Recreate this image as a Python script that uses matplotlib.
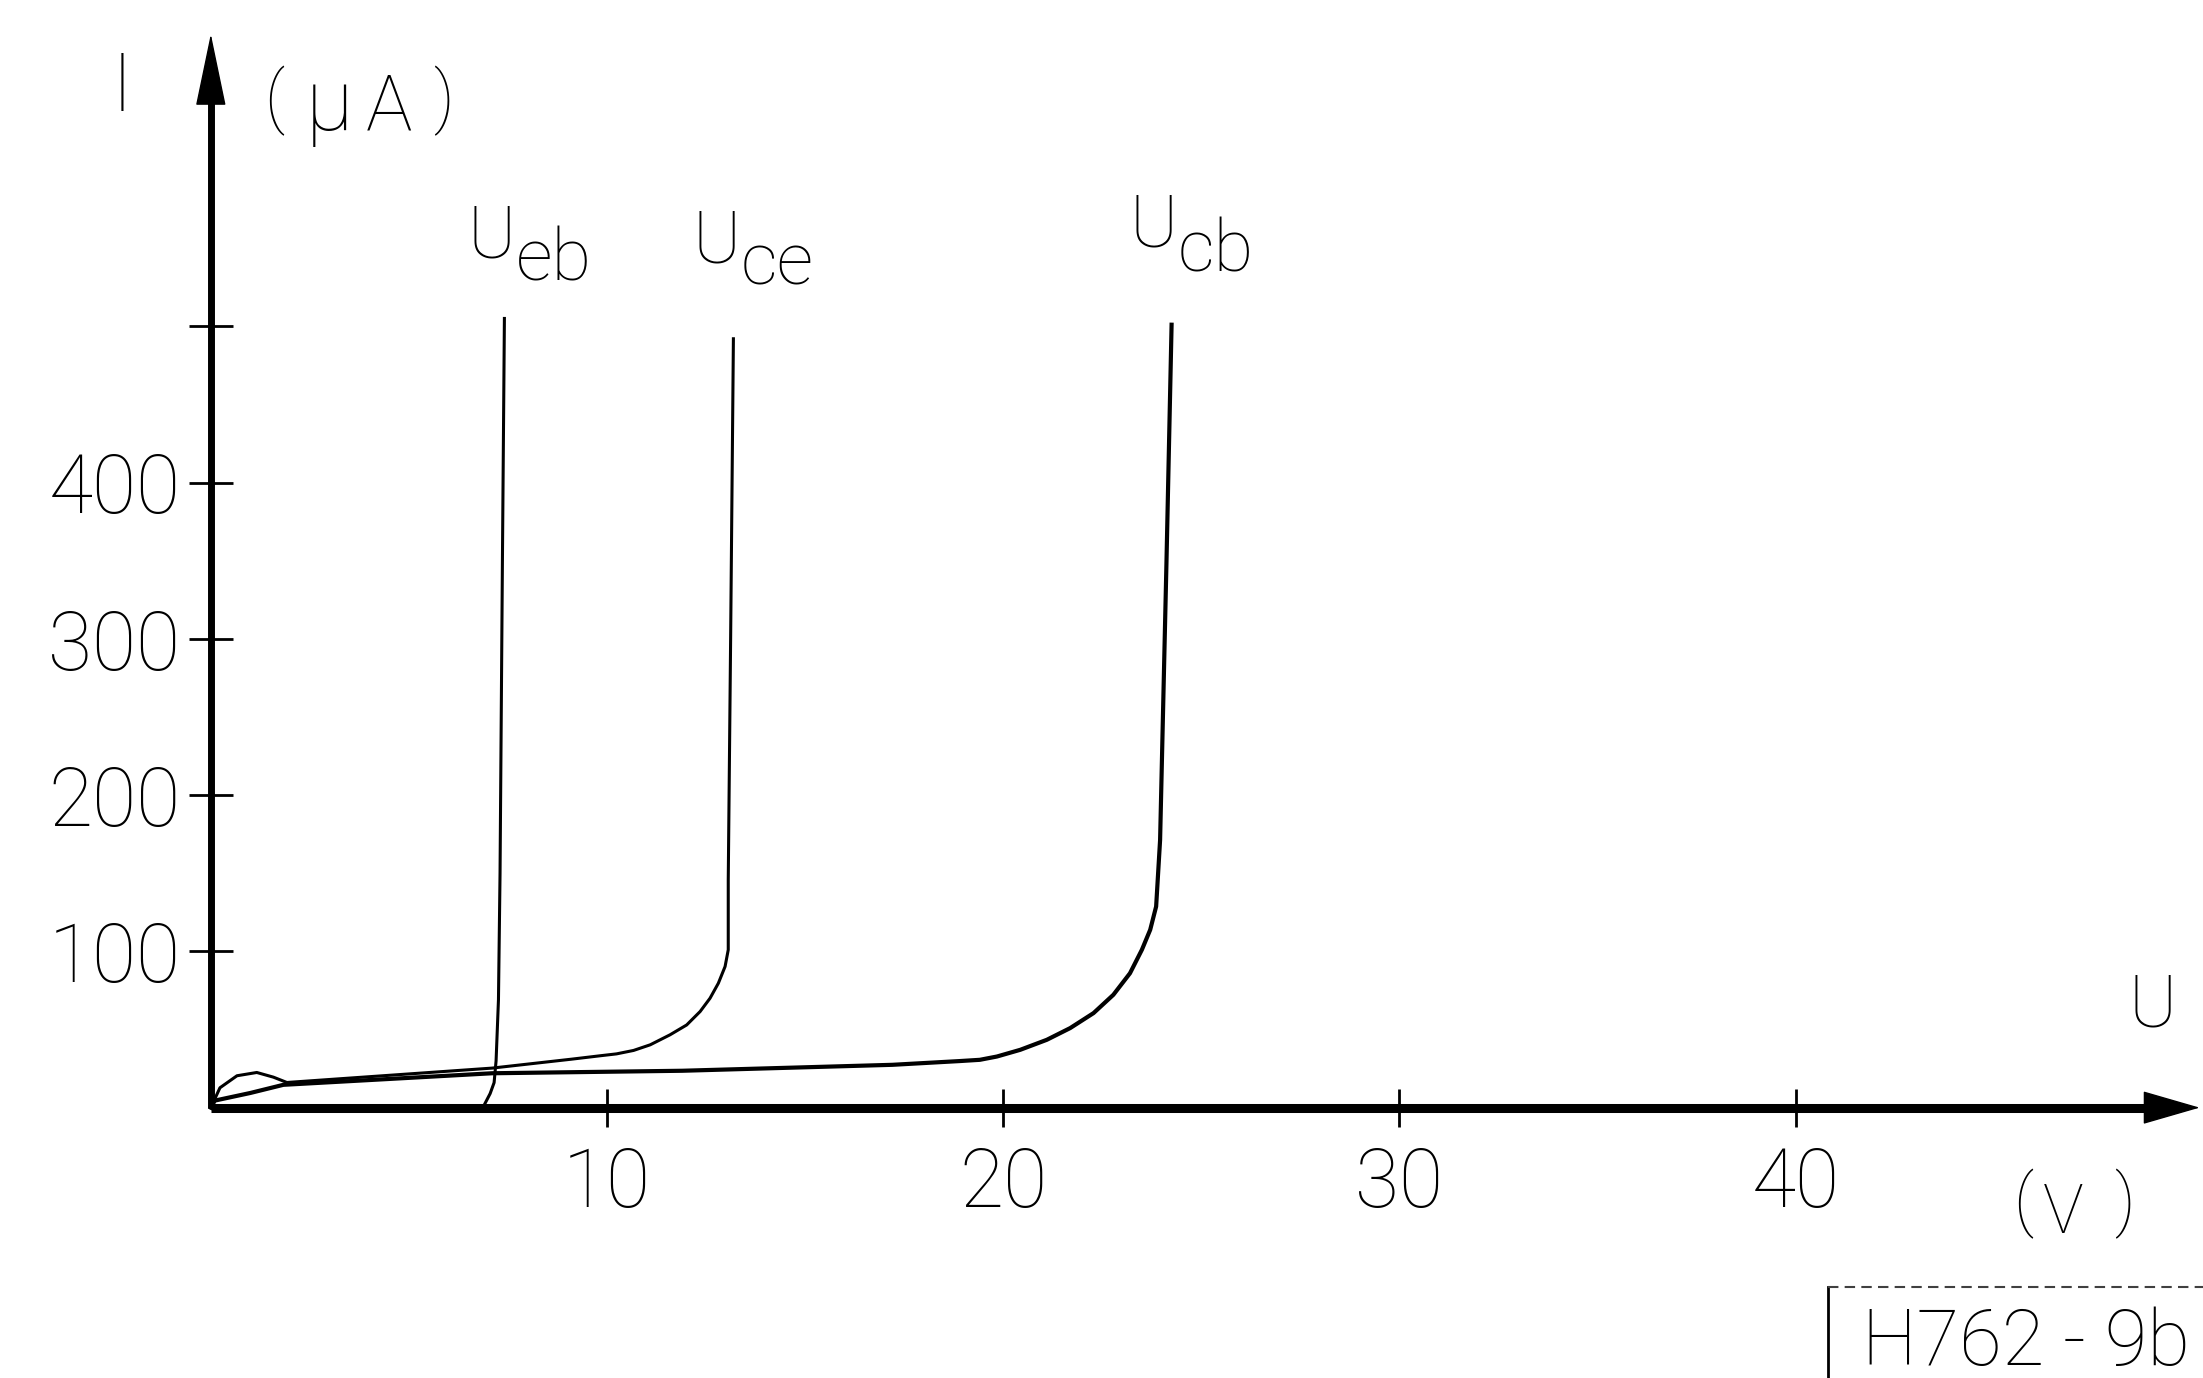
import matplotlib
matplotlib.use('Agg')
import matplotlib.pyplot as plt
from matplotlib.lines import Line2D

# breakdown characteristics: current I (uA) against voltage U (V)
ueb_u = [0.0, 6.88, 7.05, 7.15, 7.2, 7.26, 7.3, 7.36, 7.41]
ueb_i = [0.0, 0.7, 9.0, 16.0, 30.0, 69.0, 150.0, 350.0, 505.0]

uce_u = [0.0, 0.23, 0.66, 1.16, 1.58, 1.92, 7.1, 9.1, 9.83, 10.24, 10.67,
         11.09, 11.59, 12.01, 12.35, 12.6, 12.81, 12.98, 13.06, 13.06,
         13.12, 13.19]
uce_i = [0.0, 12.7, 20.4, 22.5, 19.5, 16.1, 25.3, 31.0, 33.2, 34.4, 36.6,
         40.2, 46.6, 52.9, 61.5, 70.0, 79.6, 90.3, 101.0, 145.8,
         300.0, 492.0]

ucb_u = [0.0, 0.1, 1.0, 1.83, 7.1, 11.9, 17.2, 18.9, 19.41, 19.84, 20.43,
         21.1, 21.69, 22.28, 22.78, 23.2, 23.5, 23.71, 23.86, 23.91, 23.96,
         24.12, 24.25]
ucb_i = [0.0, 4.5, 9.4, 14.6, 22.0, 23.6, 27.4, 29.8, 30.6, 32.7, 37.0,
         43.4, 50.9, 60.5, 72.2, 86.0, 101.0, 113.8, 128.7, 150.0, 171.3,
         348.0, 501.0]

x_ticks = [10, 20, 30, 40]
x_tick_labels = ['10', '20', '30', '40']
y_ticks = [100, 200, 300, 400, 500]
y_tick_labels = ['100', '200', '300', '400', '']

u_max = 50.2
i_max = 687

plt.rcParams['font.family'] = ['Roboto', 'DejaVu Sans']
plt.rcParams['font.weight'] = 'light'

fig = plt.figure(figsize=(22.03, 13.78), dpi=100)
ax = fig.add_axes([0.0957, 0.1962, 0.9028, 0.7825])
ax.set_xlim(0, u_max)
ax.set_ylim(0, 690)
for s in ax.spines.values():
    s.set_visible(False)
ax.patch.set_visible(False)

# axis lines with filled arrow heads
ax.plot([0, u_max - 1.0], [0, 0], color='k', lw=6.5, solid_capstyle='butt',
        clip_on=False)
ax.plot([0, 0], [0, i_max - 30], color='k', lw=5, solid_capstyle='butt',
        clip_on=False)
ax.annotate('', xy=(u_max, 0), xytext=(u_max - 3, 0),
            arrowprops=dict(arrowstyle='-|>,head_length=1.9,head_width=0.55',
                            mutation_scale=20, lw=1, color='k',
                            shrinkA=0, shrinkB=0),
            annotation_clip=False)
ax.annotate('', xy=(0, i_max), xytext=(0, i_max - 80),
            arrowprops=dict(arrowstyle='-|>,head_length=2.4,head_width=0.5',
                            mutation_scale=20, lw=1, color='k',
                            shrinkA=0, shrinkB=0),
            annotation_clip=False)

ax.set_xticks(x_ticks)
ax.set_xticklabels(x_tick_labels)
ax.set_yticks(y_ticks)
ax.set_yticklabels(y_tick_labels)
ax.tick_params(axis='x', direction='inout', length=27, width=2, pad=14,
               labelsize=58, color='k')
ax.tick_params(axis='y', direction='inout', length=32, width=2, pad=6,
               labelsize=58, color='k')

ax.plot(ueb_u, ueb_i, color='k', lw=2.2, clip_on=False)
ax.plot(uce_u, uce_i, color='k', lw=2.2, clip_on=False)
ax.plot(ucb_u, ucb_i, color='k', lw=3.0, clip_on=False)

# curve names, subscript set lower at the same size
lab_fs = 52
ax.text(6.49, 544, 'U', fontsize=lab_fs, ha='left', va='baseline')
ax.text(7.7, 529, 'eb', fontsize=lab_fs, ha='left', va='baseline')
ax.text(12.16, 541, 'U', fontsize=lab_fs, ha='left', va='baseline')
ax.text(13.37, 527, 'ce', fontsize=lab_fs, ha='left', va='baseline')
ax.text(23.2, 551, 'U', fontsize=lab_fs, ha='left', va='baseline')
ax.text(24.4, 535, 'cb', fontsize=lab_fs, ha='left', va='baseline')

# axis names and units, the brackets sit a little higher than the letters
ax.text(-2.23, 638, 'I', fontsize=58, ha='center', va='baseline', clip_on=False)
ax.text(1.35, 631.7, '(', fontsize=49, va='baseline', clip_on=False)
ax.text(2.4, 625.5, 'μ', fontsize=62, va='baseline', clip_on=False)
ax.text(3.9, 625.5, 'A', fontsize=56, va='baseline', clip_on=False)
ax.text(5.6, 631.7, ')', fontsize=49, va='baseline', clip_on=False)

ax.text(48.4, 51.7, 'U', fontsize=lab_fs, ha='left', va='baseline',
        clip_on=False)
ax.text(45.5, -73.9, '(', fontsize=49, va='baseline', clip_on=False)
ax.text(46.25, -80.4, 'V', fontsize=49, va='baseline', clip_on=False)
ax.text(48.05, -73.9, ')', fontsize=49, va='baseline', clip_on=False)

# drawing number box in the corner
fig.add_artist(Line2D([0.8297, 0.8297], [0.0, 0.0663], color='k', lw=2))
fig.add_artist(Line2D([0.8297, 1.0], [0.0663, 0.0663], color='0.25', lw=1.5,
                      linestyle=(0, (5, 3))))
fig.text(0.845, 0.0096, 'H762 - 9b', fontsize=56, ha='left', va='baseline')

fig.savefig('out.png', dpi=100, facecolor='white')
